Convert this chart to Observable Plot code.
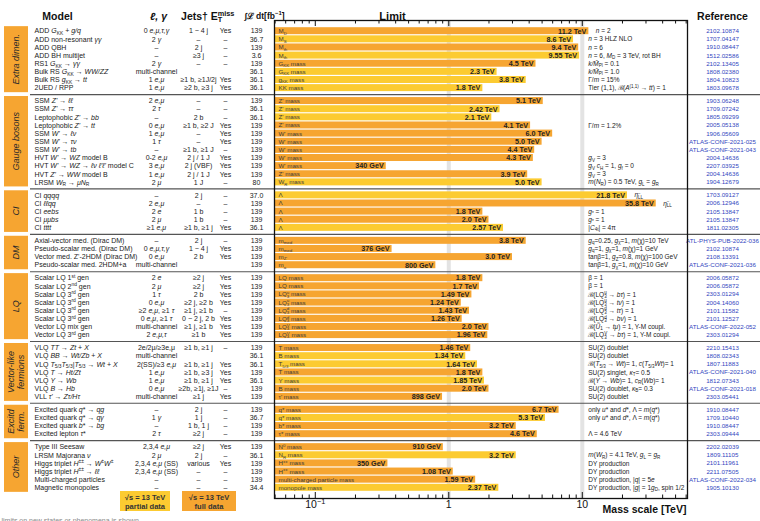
<!DOCTYPE html>
<html><head><meta charset="utf-8">
<script src="https://cdn.jsdelivr.net/npm/d3@7"></script>
<script src="https://cdn.jsdelivr.net/npm/@observablehq/plot@0.6"></script>
<style>
html,body{margin:0;padding:0;background:#fff;}
#chart{position:relative;width:760px;height:521px;overflow:hidden;}
</style></head><body><div id="chart"></div>
<script>
// ---------------- data ----------------
const groupLabels = [["Extra dimen."],["Gauge bosons"],["CI"],["DM"],["LQ"],["Vector-like","fermions"],["Excitd","ferm."],["Other"]];
const groupSizes = [8, 11, 5, 4, 8, 7, 4, 6];

const models = [
  "ADD %{G}_{KK} + %{g/q}", "ADD non-resonant %{γγ}", "ADD QBH", "ADD BH multijet",
  "RS1 %{G}_{KK} → %{γγ}", "Bulk RS %{G}_{KK} → %{WW/ZZ}", "Bulk RS %{g}_{KK} → %{tt}", "2UED / RPP",
  "SSM %{Z'} → %{ℓℓ}", "SSM %{Z'} → %{ττ}", "Leptophobic %{Z'} → %{bb}", "Leptophobic %{Z'} → %{tt}",
  "SSM %{W'} → %{ℓν}", "SSM %{W'} → %{τν}", "SSM %{W'} → %{tb}", "HVT %{W'} → %{WZ} model B",
  "HVT %{W'} → %{WZ} → %{ℓν ℓ'ℓ'} model C", "HVT %{Z'} → %{WW} model B", "LRSM %{W}_{R} → %{μN}_{R}",
  "CI %{qqqq}", "CI %{ℓℓqq}", "CI %{eebs}", "CI %{μμbs}", "CI %{tttt}",
  "Axial-vector med. (Dirac DM)", "Pseudo-scalar med. (Dirac DM)", "Vector med. Z'-2HDM (Dirac DM)", "Pseudo-scalar med. 2HDM+a",
  "Scalar LQ 1^{st} gen", "Scalar LQ 2^{nd} gen", "Scalar LQ 3^{rd} gen", "Scalar LQ 3^{rd} gen",
  "Scalar LQ 3^{rd} gen", "Scalar LQ 3^{rd} gen", "Vector LQ mix gen", "Vector LQ 3^{rd} gen",
  "VLQ %{TT} → %{Zt} + %{X}", "VLQ %{BB} → %{Wt/Zb} + %{X}", "VLQ %{T}_{5/3}%{T}_{5/3}|%{T}_{5/3} → %{Wt} + %{X}",
  "VLQ %{T} → %{Ht/Zt}", "VLQ %{Y} → %{Wb}", "VLQ %{B} → %{Hb}", "VLL %{τ'} → %{Zτ/Hτ}",
  "Excited quark %{q}* → %{qg}", "Excited quark %{q}* → %{qγ}", "Excited quark %{b}* → %{bg}", "Excited lepton %{τ}*",
  "Type III Seesaw", "LRSM Majorana %{ν}", "Higgs triplet %{H}^{±±} → %{W}^{±}%{W}^{±}", "Higgs triplet %{H}^{±±} → %{ℓℓ}",
  "Multi-charged particles", "Magnetic monopoles"
];
const leptons = [
  "0 %{e,μ,τ,γ}", "2 %{γ}", "–", "–", "2 %{γ}", "multi-channel", "1 %{e,μ}", "1 %{e,μ}",
  "2 %{e,μ}", "2 %{τ}", "–", "0 %{e,μ}", "1 %{e,μ}", "1 %{τ}", "–", "0-2 %{e,μ}", "3 %{e,μ}", "1 %{e,μ}", "2 %{μ}",
  "–", "2 %{e,μ}", "2 %{e}", "2 %{μ}", "≥1 %{e,μ}",
  "–", "0 %{e,μ,τ,γ}", "0 %{e,μ}", "multi-channel",
  "2 %{e}", "2 %{μ}", "1 %{τ}", "0 %{e,μ}", "≥2 %{e,μ}, ≥1 %{τ}", "0 %{e,μ}, ≥1 %{τ}", "multi-channel", "2 %{e,μ,τ}",
  "2e/2μ/≥3e,μ", "multi-channel", "2(SS)/≥3 %{e,μ}", "1 %{e,μ}", "1 %{e,μ}", "0 %{e,μ}", "multi-channel",
  "–", "1 %{γ}", "–", "2 %{τ}",
  "2,3,4 %{e,μ}", "2 %{μ}", "2,3,4 %{e,μ} (SS)", "2,3,4 %{e,μ} (SS)", "–", "–"
];
const jets = [
  "1 − 4 j", "–", "2 j", "≥3 j", "–", "", "≥1 b, ≥1J/2j", "≥2 b, ≥3 j",
  "–", "–", "2 b", "≥1 b, ≥2 J", "–", "–", "≥1 b, ≥1 J", "2 j / 1 J", "2 j (VBF)", "2 j / 1 J", "1 J",
  "2 j", "–", "1 b", "1 b", "≥1 b, ≥1 j",
  "2 j", "1 − 4 j", "2 b", "",
  "≥2 j", "≥2 j", "2 b", "≥2 j, ≥2 b", "≥1 j, ≥1 b", "0 − 2 j, 2 b", "≥1 j, ≥1 b", "≥1 b",
  "≥1 b, ≥1 j", "", "≥1 b, ≥1 j", "≥1 b, ≥3 j", "≥1 b, ≥1 j", "≥2b, ≥1j, ≥1J", "≥1 j",
  "2 j", "1 j", "1 b, 1 j", "≥2 j",
  "≥2 j", "2 j", "various", "–", "–", "–"
];
const etmiss = [
  "Yes", "–", "–", "–", "–", "", "Yes", "Yes",
  "–", "–", "–", "Yes", "Yes", "Yes", "–", "Yes", "Yes", "Yes", "–",
  "–", "–", "–", "–", "Yes",
  "–", "Yes", "Yes", "",
  "Yes", "Yes", "Yes", "Yes", "–", "Yes", "Yes", "Yes",
  "–", "", "Yes", "Yes", "Yes", "–", "Yes",
  "–", "–", "–", "–",
  "Yes", "–", "Yes", "–", "–", "–"
];
const lumi = [
  "139", "36.7", "139", "3.6", "139", "36.1", "36.1", "36.1",
  "139", "36.1", "36.1", "139", "139", "139", "139", "139", "139", "139", "80",
  "37.0", "139", "139", "139", "36.1",
  "139", "139", "139", "139",
  "139", "139", "139", "139", "139", "139", "139", "139",
  "139", "36.1", "36.1", "139", "36.1", "139", "139",
  "139", "36.7", "139", "139",
  "139", "36.1", "139", "139", "139", "34.4"
];
const massNames = [
  "M_{D}", "M_{S}", "M_{th}", "M_{th}", "G_{KK} mass", "G_{KK} mass", "g_{KK} mass", "KK mass",
  "Z' mass", "Z' mass", "Z' mass", "Z' mass", "W' mass", "W' mass", "W' mass", "W' mass", "W' mass", "Z' mass", "W_{R} mass",
  "Λ", "Λ", "Λ", "Λ", "Λ",
  "m_{med}", "m_{med}", "m_{Z'}", "m_{a}",
  "LQ mass", "LQ mass", "LQ^{u}_{3} mass", "LQ^{u}_{3} mass", "LQ^{d}_{3} mass", "LQ^{d}_{3} mass", "LQ^{V}_{3} mass", "LQ^{V}_{3} mass",
  "T mass", "B mass", "T_{5/3} mass", "T mass", "Y mass", "B mass", "τ' mass",
  "q* mass", "q* mass", "b* mass", "τ* mass",
  "N^{0} mass", "N_{R} mass", "H^{±±} mass", "H^{±±} mass", "multi-charged particle mass", "monopole mass"
];
const limits = [
  11.2, 8.6, 9.4, 9.55, 4.5, 2.3, 3.8, 1.8,
  5.1, 2.42, 2.1, 4.1, 6.0, 5.0, 4.4, 4.3, 0.34, 3.9, 5.0,
  21.8, 35.8, 1.8, 2.0, 2.57,
  3.8, 0.376, 3.0, 0.8,
  1.8, 1.7, 1.49, 1.24, 1.43, 1.26, 2.0, 1.96,
  1.46, 1.34, 1.64, 1.8, 1.85, 2.0, 0.898,
  6.7, 5.3, 3.2, 4.6,
  0.91, 3.2, 0.35, 1.08, 1.59, 2.37
];
const limitText = [
  "11.2 TeV", "8.6 TeV", "9.4 TeV", "9.55 TeV", "4.5 TeV", "2.3 TeV", "3.8 TeV", "1.8 TeV",
  "5.1 TeV", "2.42 TeV", "2.1 TeV", "4.1 TeV", "6.0 TeV", "5.0 TeV", "4.4 TeV", "4.3 TeV", "340 GeV", "3.9 TeV", "5.0 TeV",
  "21.8 TeV", "35.8 TeV", "1.8 TeV", "2.0 TeV", "2.57 TeV",
  "3.8 TeV", "376 GeV", "3.0 TeV", "800 GeV",
  "1.8 TeV", "1.7 TeV", "1.49 TeV", "1.24 TeV", "1.43 TeV", "1.26 TeV", "2.0 TeV", "1.96 TeV",
  "1.46 TeV", "1.34 TeV", "1.64 TeV", "1.8 TeV", "1.85 TeV", "2.0 TeV", "898 GeV",
  "6.7 TeV", "5.3 TeV", "3.2 TeV", "4.6 TeV",
  "910 GeV", "3.2 TeV", "350 GeV", "1.08 TeV", "1.59 TeV", "2.37 TeV"
];
const notes = [
  "%{n} = 2", "%{n} = 3 HLZ NLO", "%{n} = 6", "%{n} = 6, %{M}_{D} = 3 TeV, rot BH",
  "%{k/M̄}_{Pl} = 0.1", "%{k/M̄}_{Pl} = 1.0", "Γ/%{m} = 15%", "Tier (1,1), ℬ(%{A}^{(1,1)} → %{tt}) = 1",
  "", "", "", "Γ/%{m} = 1.2%", "", "", "", "%{g}_{V} = 3", "%{g}_{V} %{c}_{H} = 1, %{g}_{f} = 0", "%{g}_{V} = 3",
  "%{m}(%{N}_{R}) = 0.5 TeV, %{g}_{L} = %{g}_{R}",
  "%{η}^{−}_{LL}", "%{η}^{−}_{LL}", "%{g}_{*} = 1", "%{g}_{*} = 1", "|%{C}_{4t}| = 4π",
  "%{g}_{q}=0.25, %{g}_{χ}=1, %{m}(χ)=10 TeV", "%{g}_{q}=1, %{g}_{χ}=1, %{m}(χ)=1 GeV",
  "tanβ=1, %{g}_{Z}=0.8, %{m}(χ)=100 GeV", "tanβ=1, %{g}_{χ}=1, %{m}(χ)=10 GeV",
  "β = 1", "β = 1", "ℬ(LQ^{u}_{3} → %{bτ}) = 1", "ℬ(LQ^{u}_{3} → %{tν}) = 1",
  "ℬ(LQ^{d}_{3} → %{tτ}) = 1", "ℬ(LQ^{d}_{3} → %{bν}) = 1", "ℬ(%{Ũ}_{1} → %{tμ}) = 1, Y-M coupl.", "ℬ(LQ^{V}_{3} → %{bτ}) = 1, Y-M coupl.",
  "SU(2) doublet", "SU(2) doublet", "ℬ(%{T}_{5/3} → %{Wt})= 1, %{c}(%{T}_{5/3}%{Wt})= 1", "SU(2) singlet, %{κ}_{T}= 0.5",
  "ℬ(%{Y} → %{Wb})= 1, %{c}_{R}(%{Wb})= 1", "SU(2) doublet, %{κ}_{B}= 0.3", "SU(2) doublet",
  "only %{u}* and %{d}*, Λ = %{m}(%{q}*)", "only %{u}* and %{d}*, Λ = %{m}(%{q}*)", "", "Λ = 4.6 TeV",
  "", "%{m}(%{W}_{R}) = 4.1 TeV, %{g}_{L} = %{g}_{R}", "DY production", "DY production",
  "DY production, |%{q}| = 5%{e}", "DY production, |%{g}| = 1%{g}_{D}, spin 1/2"
];
const refs = [
  "2102.10874", "1707.04147", "1910.08447", "1512.02586", "2102.13405", "1808.02380", "1804.10823", "1803.09678",
  "1903.06248", "1709.07242", "1805.09299", "2005.05138", "1906.05609", "ATLAS-CONF-2021-025", "ATLAS-CONF-2021-043",
  "2004.14636", "2207.03925", "2004.14636", "1904.12679",
  "1703.09127", "2006.12946", "2105.13847", "2105.13847", "1811.02305",
  "ATL-PHYS-PUB-2022-036", "2102.10874", "2108.13391", "ATLAS-CONF-2021-036",
  "2006.05872", "2006.05872", "2303.01294", "2004.14060", "2101.11582", "2101.12527", "ATLAS-CONF-2022-052", "2303.01294",
  "2210.15413", "1808.02343", "1807.11883", "ATLAS-CONF-2021-040", "1812.07343", "ATLAS-CONF-2021-018", "2303.05441",
  "1910.08447", "1709.10440", "1910.08447", "2303.09444",
  "2202.02039", "1809.11105", "2101.11961", "2211.07505", "ATLAS-CONF-2022-034", "1905.10130"
];
const headers = ["Model", "%{ℓ, γ}", "Jets†", "E^{miss}_{T}", "∫ℒ dt[fb^{−1}]", "Limit", "Reference"];
const majorTicks = [0.1, 1, 10];
const minorTicks = [0.05,0.06,0.07,0.08,0.09,0.2,0.3,0.4,0.5,0.6,0.7,0.8,0.9,2,3,4,5,6,7,8,9,20,30,40,50,60];
const legendItems = [["√s = 13 TeV","partial data"],["√s = 13 TeV","full data"]];
const footnote = "*Only a selection of the available mass limits on new states or phenomena is shown.";

// ---------------- layout / style ----------------
const ORANGE = "#F6A531", YELLOW = "#FCCB31";
const W = 760, H = 521, ML = 274, MR = 73, MT = 20, MB = 23;
const FH = H - MT - MB;
const GAP = 0.594;
const xDomain = [0.04948, 61.4];
const rows = [];
{
  let k = 0;
  groupSizes.forEach((n, g) => {
    for (let i = 0; i < n; i++, k++) {
      rows.push({g, slot: k + g * GAP, model: models[k], lep: leptons[k], jets: jets[k], met: etmiss[k],
        lumi: lumi[k], name: massNames[k], limit: limits[k], ltxt: limitText[k], note: notes[k], ref: refs[k],
        full: lumi[k] === "139"});
    }
  });
}
const lastSlot = rows[rows.length - 1].slot;
const PAD = 1.316;
const yDomain = [-PAD, lastSlot + PAD];
const groupExt = groupSizes.map((n, g) => {
  const r = rows.filter(d => d.g === g);
  return {g, first: r[0].slot, last: r[r.length - 1].slot};
});
const seps = groupExt.slice(0, -1).map(e => e.last + (1 + GAP) / 2);
const FONT = "'Liberation Sans', Arial, Helvetica, sans-serif";
const TXT = "#222";
const headerDx = [-217, -116, -80, -52, -10, 118, 448];
const headerSize = [10.5, 10.5, 10.5, 10.5, 8.5, 11, 10.5];

const tableCol = (field, dx, anchor) =>
  Plot.text(rows, {y: "slot", frameAnchor: "left", dx, text: field, textAnchor: anchor, fontSize: 7, fill: TXT});

const chart = Plot.plot({
  width: W, height: H, marginLeft: ML, marginRight: MR, marginTop: MT, marginBottom: MB,
  x: {type: "log", domain: xDomain, axis: null},
  y: {domain: yDomain, reverse: true, axis: null},
  style: {fontFamily: FONT, fontSize: "7px", background: "white", overflow: "visible", color: "#111"},
  marks: [
    Plot.ruleX([1, 10], {x: d => d, stroke: "#e3e3e3", strokeWidth: 4}),
    Plot.ruleY(seps, {y: d => d, stroke: "#555", strokeWidth: 1.1, insetLeft: -(ML - 30), insetRight: -MR}),
    Plot.rect(rows, {x1: () => xDomain[0], x2: "limit", y1: d => d.slot - 0.43, y2: d => d.slot + 0.43,
      fill: d => d.full ? ORANGE : YELLOW}),
    Plot.text(rows, {y: "slot", frameAnchor: "left", dx: 4, text: "name", textAnchor: "start", fontSize: 6.2, fill: "#3a3a3a"}),
    Plot.text(rows, {x: "limit", y: "slot", dx: -2.5, text: "ltxt", textAnchor: "end", fontSize: 7.2, fontWeight: "bold", fill: TXT}),
    Plot.text(rows.filter(d => d.limit <= 10), {x: () => 10, y: "slot", dx: 6, text: "note", textAnchor: "start", fontSize: 6.5, fill: TXT}),
    Plot.text(rows.filter(d => d.limit > 10), {x: "limit", y: "slot", dx: 7, text: "note", textAnchor: "start", fontSize: 6.5, fill: TXT}),
    tableCol("model", -240, "start"),
    tableCol("lep", -118, "middle"),
    tableCol("jets", -76, "middle"),
    tableCol("met", -49, "middle"),
    tableCol("lumi", -18, "middle"),
    Plot.text(rows, {y: "slot", frameAnchor: "right", dx: 35, text: "ref", textAnchor: "middle", fontSize: 6.2, fill: "#3346c0"}),
    ...headers.map((h, i) => Plot.text([h], {frameAnchor: "top-left", dx: headerDx[i], dy: -8, text: d => d,
      textAnchor: "middle", fontSize: headerSize[i], fontWeight: "bold", fill: "#111"})),
    Plot.ruleX(majorTicks, {x: d => d, insetTop: FH - 6, stroke: "#111"}),
    Plot.ruleX(minorTicks, {x: d => d, insetTop: FH - 3.5, stroke: "#111"}),
    Plot.ruleX(majorTicks, {x: d => d, insetBottom: FH - 6, stroke: "#111"}),
    Plot.ruleX(minorTicks, {x: d => d, insetBottom: FH - 3.5, stroke: "#111"}),
    Plot.text(majorTicks, {x: d => d, frameAnchor: "bottom", dy: 9, text: d => d === 0.1 ? "10^{−1}" : String(d), fontSize: 10.5, fill: "#111"}),
    Plot.text(["Mass scale [TeV]"], {frameAnchor: "bottom-right", dx: -43, dy: 14, text: d => d, textAnchor: "middle", fontSize: 10.5, fontWeight: "bold", fill: "#111"}),
    Plot.frame({stroke: "#111", strokeWidth: 1.3})
  ]
});

// ---------------- group boxes, legend, footnote ----------------
const svg = d3.select(chart);
const ys = chart.scale("y");
groupExt.forEach(e => {
  const y0 = ys.apply(e.first - 0.56), y1 = ys.apply(e.last + 0.56);
  svg.append("rect").attr("x", 4).attr("y", y0).attr("width", 24).attr("height", y1 - y0).attr("fill", ORANGE);
  const lines = groupLabels[e.g];
  const t = svg.append("text").attr("transform", `translate(16,${(y0 + y1) / 2}) rotate(-90)`)
    .attr("text-anchor", "middle").attr("font-style", "italic").attr("font-size", 9)
    .attr("font-family", FONT).attr("fill", "#2a2a2a");
  lines.forEach((l, i) => t.append("tspan").attr("x", 0).attr("y", (i - (lines.length - 1) / 2) * 9.5).attr("dy", "0.35em").text(l));
});
const legPos = [{x: 120, w: 50, fill: YELLOW}, {x: 182, w: 54, fill: ORANGE}];
legendItems.forEach((lines, i) => {
  const p = legPos[i];
  svg.append("rect").attr("x", p.x).attr("y", 491).attr("width", p.w).attr("height", 20).attr("fill", p.fill);
  lines.forEach((l, j) => svg.append("text").attr("x", p.x + p.w / 2).attr("y", 497.5 + j * 8.5).attr("dy", "0.35em")
    .attr("text-anchor", "middle").attr("font-size", 7.5).attr("font-weight", "bold").attr("font-family", FONT)
    .attr("fill", "#333").text(l));
});
svg.append("text").attr("x", 10).attr("y", 522.5).attr("font-size", 7).attr("font-family", FONT).attr("fill", "#888").text(footnote);

document.getElementById("chart").appendChild(chart);

// ---------------- rich text (sub/sup/italic), after attaching ----------------
const NS = "http://www.w3.org/2000/svg";
function richify(el) {
  const s = el.textContent;
  if (!/[_^%]\{/.test(s)) return;
  const fs = parseFloat(getComputedStyle(el).fontSize) || 7;
  el.textContent = "";
  const segs = [];
  let buf = "", i = 0;
  while (i < s.length) {
    const c = s[i];
    if ((c === "_" || c === "^" || c === "%") && s[i + 1] === "{") {
      if (buf) segs.push({txt: buf, kind: null}); buf = "";
      const j = s.indexOf("}", i + 2);
      segs.push({txt: s.slice(i + 2, j), kind: c});
      i = j + 1;
    } else { buf += c; i++; }
  }
  if (buf) segs.push({txt: buf, kind: null});
  let cur = 0, prevSeg = null, prevEl = null, pendingDx = 0;
  for (const sg of segs) {
    const t = document.createElementNS(NS, "tspan");
    t.textContent = sg.txt;
    const target = sg.kind === "_" ? 0.22 * fs : sg.kind === "^" ? -0.36 * fs : 0;
    if (target !== cur) t.setAttribute("dy", target - cur);
    cur = target;
    if (sg.kind === "_" || sg.kind === "^") t.setAttribute("font-size", 0.7 * fs);
    if (sg.kind === "%") t.setAttribute("font-style", "italic");
    el.appendChild(t);
    if (sg.kind === "_" && prevSeg && prevSeg.kind === "^") {
      const supLen = prevEl.getComputedTextLength();
      t.setAttribute("dx", -supLen);
      const subLen = t.getComputedTextLength();
      pendingDx = Math.max(0, supLen - subLen);
    } else if (pendingDx) {
      t.setAttribute("dx", pendingDx);
      pendingDx = 0;
    }
    prevSeg = sg; prevEl = t;
  }
}
chart.querySelectorAll("text").forEach(richify);
</script></body></html>
